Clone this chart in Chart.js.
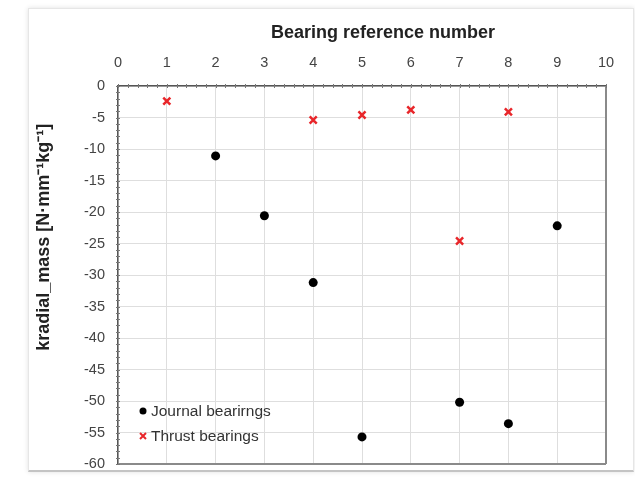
<!DOCTYPE html>
<html>
<head>
<meta charset="utf-8">
<script src="https://cdn.jsdelivr.net/npm/chart.js@4"></script>
<style>
  body { margin: 0; background: #fff; }
  .card {
    position: absolute; left: 28px; top: 8px; width: 604px; height: 461px;
    background: #fff; border: 1px solid #e6e6e6; border-bottom: 2px solid #c4c4c4;
    box-shadow: 0 0 5px rgba(0,0,0,0.12);
  }
  #wrap { position: absolute; left: 0; top: 0; width: 635px; height: 477px; }
</style>
</head>
<body>
<div class="card"></div>
<div id="wrap"><canvas id="chart"></canvas></div>
<script>
// data
const journalX = [2, 3, 4, 5, 7, 8, 9];
const journalY = [-11.1, -20.6, -31.2, -55.7, -50.2, -53.6, -22.2];
const thrustX = [1, 4, 5, 6, 7, 8];
const thrustY = [-2.4, -5.4, -4.6, -3.8, -24.6, -4.1];

const xTitle = 'Bearing reference number';
const yTitle = 'kradial_mass [N·mm⁻¹kg⁻¹]';

const toPoints = (xs, ys) => xs.map((x, i) => ({ x: x, y: ys[i] }));

const FONT = '"Liberation Sans", Arial, sans-serif';

// axis titles, minor ticks, plot border and legend (placed like the excel original)
const extras = {
  id: 'extras',
  afterDraw(chart) {
    const ctx = chart.ctx;
    const a = chart.chartArea;
    const xs = chart.scales.x, ys = chart.scales.y;
    ctx.save();
    // right and bottom border
    ctx.strokeStyle = '#8a8a8a';
    ctx.lineWidth = 2;
    ctx.beginPath();
    ctx.moveTo(a.right, a.top);
    ctx.lineTo(a.right, a.bottom);
    ctx.moveTo(a.left, a.bottom);
    ctx.lineTo(a.right, a.bottom);
    ctx.stroke();
    // minor ticks
    ctx.strokeStyle = '#777';
    ctx.lineWidth = 1;
    ctx.beginPath();
    for (let v = 0; v <= 10.001; v += 0.2) {
      const px = Math.round(xs.getPixelForValue(v)) + 0.5;
      ctx.moveTo(px, a.top - 2);
      ctx.lineTo(px, a.top + 2);
    }
    for (let v = 0; v >= -60; v -= 1) {
      const py = Math.round(ys.getPixelForValue(v)) + 0.5;
      ctx.moveTo(a.left - 2, py);
      ctx.lineTo(a.left + 2, py);
    }
    ctx.stroke();

    // titles
    ctx.fillStyle = '#222';
    ctx.font = 'bold 18px ' + FONT;
    ctx.textAlign = 'center';
    ctx.textBaseline = 'middle';
    ctx.fillText(xTitle, a.left + a.width / 2 + 21, 33);
    ctx.save();
    ctx.translate(44, a.top + a.height * 0.4);
    ctx.rotate(-Math.PI / 2);
    ctx.fillText(yTitle, 0, 0);
    ctx.restore();

    // legend
    ctx.font = '15.5px ' + FONT;
    ctx.textAlign = 'left';
    const lx = a.left + 25;
    const rows = [a.bottom - 53, a.bottom - 28];
    chart.data.datasets.forEach((ds, i) => {
      const y = rows[i];
      if (ds.pointStyle === 'circle') {
        ctx.fillStyle = ds.backgroundColor;
        ctx.beginPath();
        ctx.arc(lx, y, 3.5, 0, Math.PI * 2);
        ctx.fill();
      } else {
        ctx.strokeStyle = ds.borderColor;
        ctx.lineWidth = 2;
        ctx.beginPath();
        ctx.moveTo(lx - 3, y - 3); ctx.lineTo(lx + 3, y + 3);
        ctx.moveTo(lx + 3, y - 3); ctx.lineTo(lx - 3, y + 3);
        ctx.stroke();
      }
      ctx.fillStyle = '#333';
      ctx.fillText(ds.label, lx + 8, y + 1);
    });
    ctx.restore();
  }
};

new Chart(document.getElementById('chart'), {
  type: 'scatter',
  data: {
    datasets: [
      {
        label: 'Journal bearirngs',
        data: toPoints(journalX, journalY),
        pointStyle: 'circle',
        pointRadius: 4.5,
        pointHoverRadius: 4.5,
        backgroundColor: '#000',
        borderColor: '#000',
        borderWidth: 0
      },
      {
        label: 'Thrust bearings',
        data: toPoints(thrustX, thrustY),
        pointStyle: 'crossRot',
        pointRadius: 5,
        pointHoverRadius: 5,
        backgroundColor: '#e8262a',
        borderColor: '#e8262a',
        borderWidth: 2.5
      }
    ]
  },
  options: {
    responsive: true,
    maintainAspectRatio: false,
    animation: false,
    layout: { padding: { left: 0, top: 0, right: 29, bottom: 13 } },
    plugins: {
      legend: { display: false },
      tooltip: { enabled: false }
    },
    scales: {
      x: {
        type: 'linear',
        position: 'top',
        min: 0, max: 10,
        ticks: { stepSize: 1, padding: 14, color: '#444', font: { family: FONT, size: 14.5 } },
        grid: { color: '#dedede', drawTicks: false },
        border: { color: '#555', width: 1.5 },
        afterFit(s) { s.height = 86; s.paddingLeft = 0; s.paddingRight = 0; }
      },
      y: {
        type: 'linear',
        min: -60, max: 0,
        ticks: { stepSize: 5, padding: 13, color: '#444', font: { family: FONT, size: 14.5 } },
        grid: { color: '#dedede', drawTicks: false },
        border: { color: '#555', width: 1.5 },
        afterFit(s) { s.width = 118; s.paddingTop = 0; s.paddingBottom = 0; }
      }
    }
  },
  plugins: [extras]
});
</script>
</body>
</html>
